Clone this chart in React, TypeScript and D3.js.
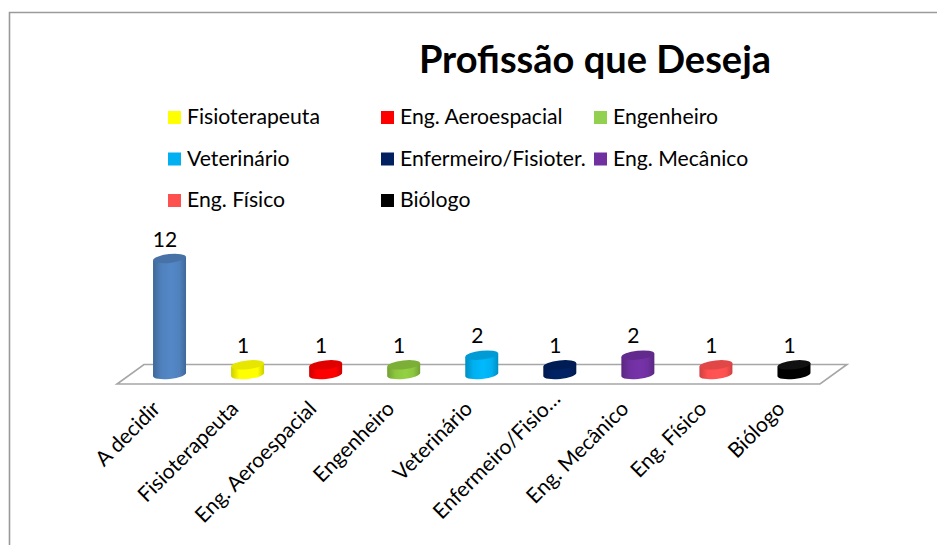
import React from "react";
import * as d3 from "d3";

const categories = ["A decidir", "Fisioterapeuta", "Eng. Aeroespacial", "Engenheiro", "Veterinário", "Enfermeiro/Fisio…", "Eng. Mecânico", "Eng. Físico", "Biólogo"];
const values = [12, 1, 1, 1, 2, 1, 2, 1, 1];
const barColors = ["#4f81bd", "#ffff00", "#ff0000", "#8cc63f", "#00b0f0", "#002060", "#7030a0", "#ff5050", "#000000"];
const legendLabels = ["Fisioterapeuta", "Eng. Aeroespacial", "Engenheiro", "Veterinário", "Enfermeiro/Fisioter.", "Eng. Mecânico", "Eng. Físico", "Biólogo"];
const legendColors = ["#ffff00", "#ff0000", "#92d050", "#00b0f0", "#002060", "#7030a0", "#ff5050", "#000000"];
const title = "Profissão que Deseja";

const FONT = "Lato, 'Open Sans', sans-serif";

export default function App() {
  const x = d3.scaleBand<number>().domain(d3.range(categories.length)).range([130.5, 833]).paddingInner(0).paddingOuter(0);
  const y = d3.scaleLinear().domain([0, 12]).range([374.5, 258.5]);
  const bw = 33;
  const ry = 4.4;
  const tilt = -6;
  const legendCol = d3.scalePoint<number>().domain([0, 1, 2]).range([168, 594]);
  const legendRow = d3.scalePoint<number>().domain([0, 1, 2]).range([117, 200]);

  return (
    <svg width={937} height={545} style={{ position: "absolute", left: 0, top: 0, background: "#fff" }} fontFamily={FONT}>
      <defs>
        {barColors.map((c, i) => {
          const dark = d3.color(c)!.darker(0.6).formatHex();
          const light = d3.color(c)!.brighter(0.15).formatHex();
          return (
            <linearGradient key={i} id={`g${i}`} x1="0" x2="1" y1="0" y2="0">
              <stop offset="0" stopColor={dark} />
              <stop offset="0.25" stopColor={c} />
              <stop offset="0.55" stopColor={light} />
              <stop offset="0.8" stopColor={c} />
              <stop offset="1" stopColor={dark} />
            </linearGradient>
          );
        })}
      </defs>
      <path d="M9.5 545V12.5H937" fill="none" stroke="#9a9a9a" strokeWidth={1.6} />
      <text x={595} y={73} textAnchor="middle" fontSize={38} fontWeight={700} fill="#000">{title}</text>

      {legendLabels.map((l, i) => {
        const lx = legendCol(i % 3)!;
        const ly = legendRow(Math.floor(i / 3))!;
        return (
          <g key={l}>
            <rect x={lx} y={ly - 6} width={13} height={13} fill={legendColors[i]} />
            <text x={lx + 19} y={ly + 7} fontSize={21.2} fill="#000">{l}</text>
          </g>
        );
      })}

      <path d="M117 384H820L847 364.500H144Z" fill="#fff" stroke="#a6a6a6" strokeWidth={1.6} />

      {values.map((v, i) => {
        const cx = x(i)! + x.bandwidth() / 2;
        const yb = y(0);
        const yt = y(v);
        const rx = bw / 2;
        const dy = rx * Math.tan((tilt * Math.PI) / 180);
        const body = `M${cx - rx} ${yt - dy}L${cx - rx} ${yb - dy}A${rx} ${ry} ${tilt} 0 0 ${cx + rx} ${yb + dy}L${cx + rx} ${yt + dy}Z`;
        const top = d3.color(barColors[i])!.darker(0.35).formatHex();
        const truncated = categories[i].endsWith("…");
        return (
          <g key={i}>
            <path d={body} fill={`url(#g${i})`} />
            <ellipse cx={cx} cy={yt} rx={rx} ry={ry} transform={`rotate(${tilt} ${cx} ${yt})`} fill={i === 1 ? "#e6e600" : i === 8 ? "#111" : top} />
            <text x={cx - 4.5} y={yt - 12} textAnchor="middle" fontSize={21} fill="#000">{v}</text>
            <text
              transform={`translate(${cx - 8} 410) rotate(-45)`}
              x={truncated ? 14 : 0}
              textAnchor="end"
              fontSize={21}
              fill="#000"
            >{categories[i]}</text>
          </g>
        );
      })}
    </svg>
  );
}
